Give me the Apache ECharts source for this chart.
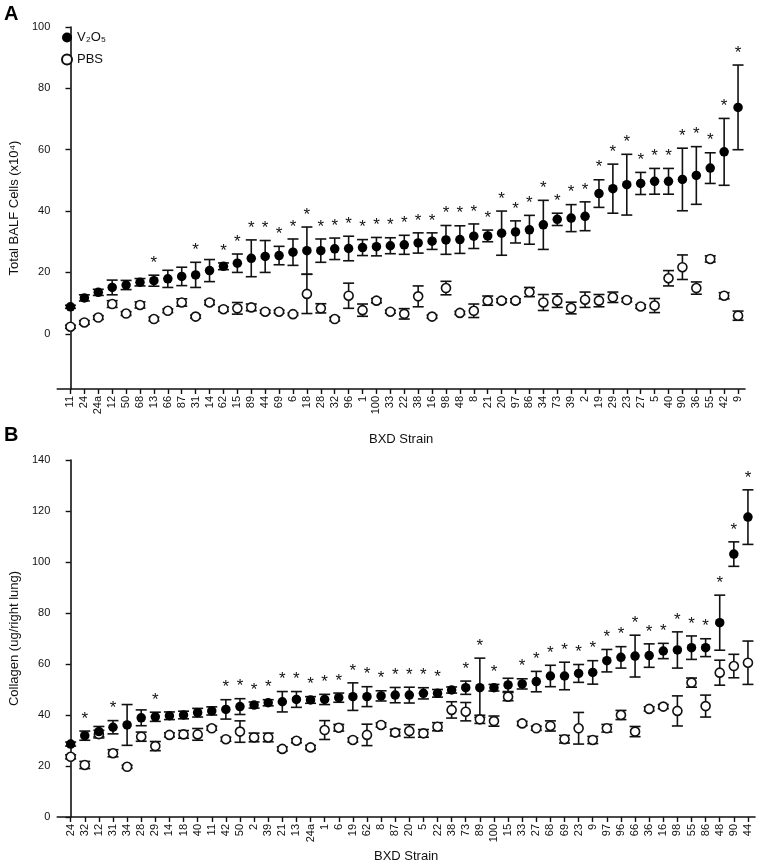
<!DOCTYPE html>
<html>
<head>
<meta charset="utf-8">
<script src="https://cdn.jsdelivr.net/npm/echarts@6/dist/echarts.min.js"></script>
<style>html,body{margin:0;padding:0;background:#fff;}#c{width:764px;height:868px;}</style>
</head>
<body>
<div id="c"></div>
<script>
// ---------- Panel A: Total BALF cells ----------
const strainsA = ['11','24','24a','12','50','68','13','66','87','31','14','62','15','89','44','69','6','18','28','32','96','1','100','33','22','38','16','98','48','8','21','20','97','86','34','73','39','2','19','29','23','27','5','40','90','36','55','42','9'];
const v2o5A = [8.8,11.7,13.5,15.1,15.9,16.8,17.3,17.9,18.7,19.2,20.6,22.0,23.0,24.6,25.2,25.5,26.6,27.1,27.1,27.7,27.8,28.1,28.4,28.7,29.0,29.6,30.2,30.6,30.7,31.8,31.9,32.8,33.2,33.9,35.5,37.3,37.7,38.3,45.7,47.3,48.6,49.0,49.7,49.7,50.3,51.6,54.0,59.3,73.8];
const v2o5AErr = [0.5,1.0,1.0,2.4,1.5,1.2,1.8,2.8,3.0,4.1,3.6,1.1,3.0,6.0,5.2,3.0,4.3,7.7,3.8,3.5,4.0,2.6,3.0,2.6,3.1,3.3,2.7,4.7,4.5,4.0,1.9,7.2,3.6,4.7,8.0,2.0,4.4,4.7,4.5,8.0,9.9,3.6,4.2,4.2,10.2,9.4,5.0,10.9,13.8];
const pbsA = [2.3,3.7,5.3,9.7,6.6,9.4,4.8,7.5,10.2,5.6,10.2,8.0,8.3,8.6,7.2,7.2,6.4,13.0,8.3,4.8,12.4,7.7,10.8,7.2,6.5,12.2,5.6,14.9,6.8,7.5,10.8,10.8,10.8,13.6,10.2,10.8,8.4,11.1,10.8,11.9,11.0,8.9,9.2,18.1,21.7,14.9,24.4,12.4,5.9];
const pbsAErr = [0.5,0.6,0.6,1.1,0.6,1.0,0.6,0.6,1.2,0.5,0.7,0.7,1.9,1.1,0.5,0.5,0.4,6.4,1.5,0.6,4.1,2.0,0.7,0.5,1.7,3.4,0.5,2.2,0.5,2.2,1.5,0.6,0.6,1.5,2.6,2.2,1.9,2.5,2.0,1.7,0.6,0.6,2.3,2.5,4.0,2.0,1.0,1.0,1.5];
const sigA = [0,0,0,0,0,0,1,0,0,1,0,1,1,1,1,1,1,1,1,1,1,1,1,1,1,1,1,1,1,1,1,1,1,1,1,1,1,1,1,1,1,1,1,1,1,1,1,1,1];
const ticksA = [0,20,40,60,80,100];

// ---------- Panel B: Collagen ----------
const strainsB = ['24','32','12','31','34','28','29','14','18','40','11','42','50','2','39','21','13','24a','1','6','19','62','8','87','20','5','22','38','73','89','100','15','33','27','68','69','23','9','97','96','66','36','16','98','55','86','48','90','44'];
const v2o5B = [28.6,31.9,33.5,35.2,36.1,38.9,39.3,39.7,40.0,40.9,41.6,42.2,43.3,43.9,44.8,45.2,46.1,45.9,46.1,46.8,47.2,47.2,47.5,47.8,47.8,48.5,48.5,49.8,50.7,50.7,50.7,51.8,52.2,53.1,55.3,55.3,56.3,56.7,61.3,62.6,63.1,63.3,65.1,65.5,66.4,66.4,76.2,103.1,117.6];
const v2o5BErr = [0.8,1.8,2.0,2.6,8.0,3.1,1.8,1.5,1.5,1.7,1.6,3.8,3.1,1.2,1.2,4.0,3.1,1.3,2.0,1.8,5.4,3.9,2.0,3.0,3.1,2.2,1.5,1.2,2.6,11.6,1.3,2.6,2.0,4.0,4.2,5.4,3.5,4.6,4.4,4.2,8.2,4.6,3.0,7.1,4.6,3.5,10.8,4.8,10.7];
const pbsB = [23.6,20.4,32.5,25.0,19.7,31.5,27.8,32.2,32.4,32.4,34.8,30.5,33.5,31.2,31.2,26.7,29.9,27.3,34.1,35.0,30.2,32.2,36.1,33.1,33.7,32.8,35.4,42.0,41.3,38.3,37.6,47.2,36.7,34.8,35.7,30.5,34.8,30.2,34.8,40.0,33.5,42.4,43.3,41.6,52.7,43.5,56.6,59.2,60.5];
const pbsBErr = [0.8,1.4,1.5,1.4,0.6,1.8,1.8,0.8,1.5,2.3,0.8,0.8,4.2,1.7,1.7,0.8,0.8,0.8,3.7,1.3,0.8,4.2,0.8,1.3,2.5,1.5,1.6,3.2,3.6,1.6,2.0,1.6,0.8,0.8,2.0,1.5,6.2,1.4,1.5,1.8,2.0,0.8,0.8,5.9,1.8,4.3,4.9,4.6,8.5];
const sigB = [0,1,0,1,0,0,1,0,0,0,0,1,1,1,1,1,1,1,1,1,1,1,1,1,1,1,1,0,1,1,1,0,1,1,1,1,1,1,1,1,1,1,1,1,1,1,1,1,1];
const ticksB = [0,20,40,60,80,100,120,140];

const FONT = 'Liberation Sans, Arial, sans-serif';
const idx = n => Array.from({length:n}, (_, i) => i);

function errRender(params, api) {
  const x = api.value(0), m = api.value(1), e = api.value(2);
  const t = api.coord([x, m + e]), b = api.coord([x, m - e]);
  const hw = 5.5, st = {stroke:'#111', lineWidth:1.6};
  return {type:'group', children:[
    {type:'line', shape:{x1:t[0], y1:t[1], x2:b[0], y2:b[1]}, style:st},
    {type:'line', shape:{x1:t[0]-hw, y1:t[1], x2:t[0]+hw, y2:t[1]}, style:st},
    {type:'line', shape:{x1:b[0]-hw, y1:b[1], x2:b[0]+hw, y2:b[1]}, style:st}
  ]};
}
function starRender(params, api) {
  const p = api.coord([api.value(0), api.value(1)]);
  return {type:'text', x:p[0], y:p[1] - 12, style:{text:'*', fontSize:17, fontFamily:FONT, fill:'#111', align:'center', verticalAlign:'middle'}};
}

function panelSeries(gi, means, errs, pmeans, perrs, sig) {
  const n = means.length;
  const errV = idx(n).map(i => [i, means[i], errs[i]]);
  const errP = idx(n).map(i => [i, pmeans[i], perrs[i]]);
  const stars = idx(n).filter(i => sig[i]).map(i => [i, means[i] + errs[i]]);
  return [
    {type:'custom', xAxisIndex:gi, yAxisIndex:gi, renderItem:errRender, data:errP, encode:{x:0, y:1}, z:2, clip:false, silent:true},
    {type:'custom', xAxisIndex:gi, yAxisIndex:gi, renderItem:errRender, data:errV, encode:{x:0, y:1}, z:2, clip:false, silent:true},
    {name:'PBS', type:'scatter', xAxisIndex:gi, yAxisIndex:gi, symbol:'circle', symbolSize:9,
     itemStyle:{color:'#fff', borderColor:'#111', borderWidth:1.6, opacity:1},
     data: idx(n).map(i => [i, pmeans[i]]), z:3},
    {name:'V₂O₅', type:'scatter', xAxisIndex:gi, yAxisIndex:gi, symbol:'circle', symbolSize:9.5,
     itemStyle:{color:'#000', opacity:1}, data: idx(n).map(i => [i, means[i]]), z:4},
    {type:'custom', xAxisIndex:gi, yAxisIndex:gi, renderItem:starRender, data:stars, encode:{x:0, y:1}, z:5, clip:false, silent:true}
  ];
}

function xAxisFor(gi, names) {
  const cv = idx(names.length);
  return {type:'value', gridIndex:gi, min:-0.95, max:48.5,
    name:'BXD Strain', nameLocation:'middle', nameGap: gi === 0 ? 44 : 33,
    nameTextStyle:{fontSize:13, color:'#111', fontFamily:FONT},
    axisLine:{onZero:false, lineStyle:{color:'#111', width:1.6}},
    axisTick:{customValues:cv, length:5, lineStyle:{color:'#111', width:1.4}},
    axisLabel:{customValues:cv, rotate:90, fontSize:11, color:'#111', fontFamily:FONT, margin:7,
      formatter: v => names[Math.round(v)]},
    splitLine:{show:false}};
}
function yAxisFor(gi, min, max, ticks, name, gap) {
  return {type:'value', gridIndex:gi, min:min, max:max,
    name:name, nameLocation:'middle', nameGap:gap, nameRotate:90,
    nameTextStyle:{fontSize:13, color:'#111', fontFamily:FONT},
    axisLine:{show:true, lineStyle:{color:'#111', width:1.6}},
    axisTick:{show:true, customValues:ticks, length:5, lineStyle:{color:'#111', width:1.4}},
    axisLabel:{customValues:ticks, fontSize:11, color:'#111', fontFamily:FONT, margin:7},
    splitLine:{show:false}};
}

const chart = echarts.init(document.getElementById('c'), null, {renderer:'canvas'});
chart.setOption({
  animation:false,
  backgroundColor:'#fff',
  textStyle:{fontFamily:FONT},
  grid:[{left:55, right:19, top:27, bottom:479}, {left:55, right:9, top:460, bottom:51}],
  xAxis:[xAxisFor(0, strainsA), xAxisFor(1, strainsB)],
  yAxis:[yAxisFor(0, -18, 100, ticksA, 'Total BALF Cells (x10⁴)', 27),
         yAxisFor(1, 0, 140, ticksB, 'Collagen (ug/right lung)', 27)],
  legend:{left:61, top:31, padding:0, orient:'vertical', itemGap:9, itemWidth:10, itemHeight:10,
    data:[{name:'V₂O₅', icon:'circle'}, {name:'PBS', icon:'circle'}],
    textStyle:{fontSize:13, color:'#111', fontFamily:FONT}, selectedMode:false},
  graphic:[
    {type:'text', left:4, top:4, style:{text:'A', fontSize:20, fontWeight:'bold', fill:'#000', fontFamily:FONT}},
    {type:'text', left:4, top:425, style:{text:'B', fontSize:20, fontWeight:'bold', fill:'#000', fontFamily:FONT}}
  ],
  series:[].concat(
    panelSeries(0, v2o5A, v2o5AErr, pbsA, pbsAErr, sigA),
    panelSeries(1, v2o5B, v2o5BErr, pbsB, pbsBErr, sigB)
  )
});
</script>
</body>
</html>
